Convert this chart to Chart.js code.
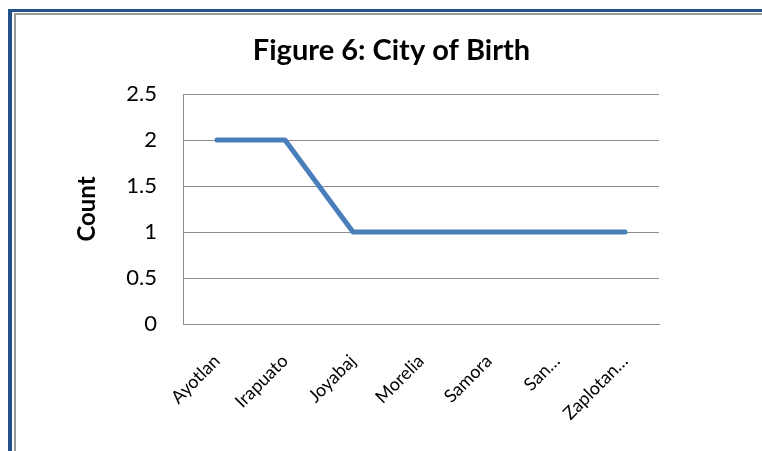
<!DOCTYPE html>
<html>
<head>
<meta charset="utf-8">
<script src="https://cdn.jsdelivr.net/npm/chart.js@4"></script>
<style>
  html, body { margin: 0; padding: 0; background: #fff; }
  body { width: 762px; height: 451px; position: relative; overflow: hidden; }
  .frame-blue { position: absolute; left: 8px; top: 9px; right: -10px; bottom: -10px;
                border-left: 4px solid #24518a; border-top: 3px solid #24518a; }
  .frame-grey { position: absolute; left: 14px; top: 13px; right: -10px; bottom: -10px;
                border-left: 2px solid #9a9a9a; border-top: 2px solid #9a9a9a; }
  #wrap { position: absolute; left: 0; top: 0; width: 762px; height: 451px; }
</style>
</head>
<body>
<div class="frame-blue"></div>
<div class="frame-grey"></div>
<div id="wrap"><canvas id="chartCity"></canvas></div>
<script>
// --- data ---
const cities = ['Ayotlan', 'Irapuato', 'Joyabaj', 'Morelia', 'Samora', 'San…', 'Zaplotan…'];
const counts = [2, 2, 1, 1, 1, 1, 1];
const yTicks = [0, 0.5, 1, 1.5, 2, 2.5];

// --- colours / font ---
const lineBlue = '#4a7ebb';
const gridGrey = '#8c8c8c';
const fontName = 'Lato, "Open Sans", sans-serif';

// title sits over the middle of the picture, not over the padded box
const titleShift = {
    id: 'titleShift',
    afterLayout(chart) {
        const t = chart.titleBlock;
        if (t) { t.left += 62; t.right += 62; }
    }
};

const ctx = document.getElementById('chartCity');
new Chart(ctx, {
    type: 'line',
    data: {
        labels: cities,
        datasets: [{
            label: 'Count',
            data: counts,
            borderColor: lineBlue,
            borderWidth: 5,
            borderCapStyle: 'round',
            borderJoinStyle: 'round',
            pointRadius: 0,
            tension: 0
        }]
    },
    plugins: [titleShift],
    options: {
        responsive: true,
        maintainAspectRatio: false,
        animation: false,
        layout: { padding: { left: 0, right: 103, top: 0, bottom: 0 } },
        plugins: {
            legend: { display: false },
            tooltip: { enabled: false },
            title: {
                display: true,
                text: 'Figure 6: City of Birth',
                color: '#000',
                font: { family: fontName, size: 29, weight: 'bold', lineHeight: 1.2 },
                padding: { top: 33.4, bottom: 25.8 }
            }
        },
        scales: {
            x: {
                offset: true,
                grid: { display: false, drawTicks: false },
                border: { display: true, color: gridGrey, width: 1 },
                ticks: {
                    color: '#000',
                    font: { family: fontName, size: 18, lineHeight: 0 },
                    minRotation: 45,
                    maxRotation: 45,
                    autoSkip: false,
                    padding: 34
                },
                afterFit: function(scale) { scale.height = 127; }
            },
            y: {
                min: 0,
                max: 2.5,
                afterBuildTicks: function(scale) {
                    scale.ticks = yTicks.map(v => ({ value: v }));
                },
                grid: { color: gridGrey, lineWidth: 1, drawTicks: false },
                border: { display: true, color: gridGrey, width: 1 },
                ticks: {
                    color: '#000',
                    font: { family: fontName, size: 22 },
                    padding: 26,
                    callback: v => String(v)
                },
                title: {
                    display: true,
                    text: 'Count',
                    color: '#000',
                    font: { family: fontName, size: 24, weight: 'bold', lineHeight: 1.2 },
                    padding: { top: 73, bottom: 0 }
                },
                afterFit: function(scale) { scale.width = 183; }
            }
        }
    }
});
</script>
</body>
</html>
